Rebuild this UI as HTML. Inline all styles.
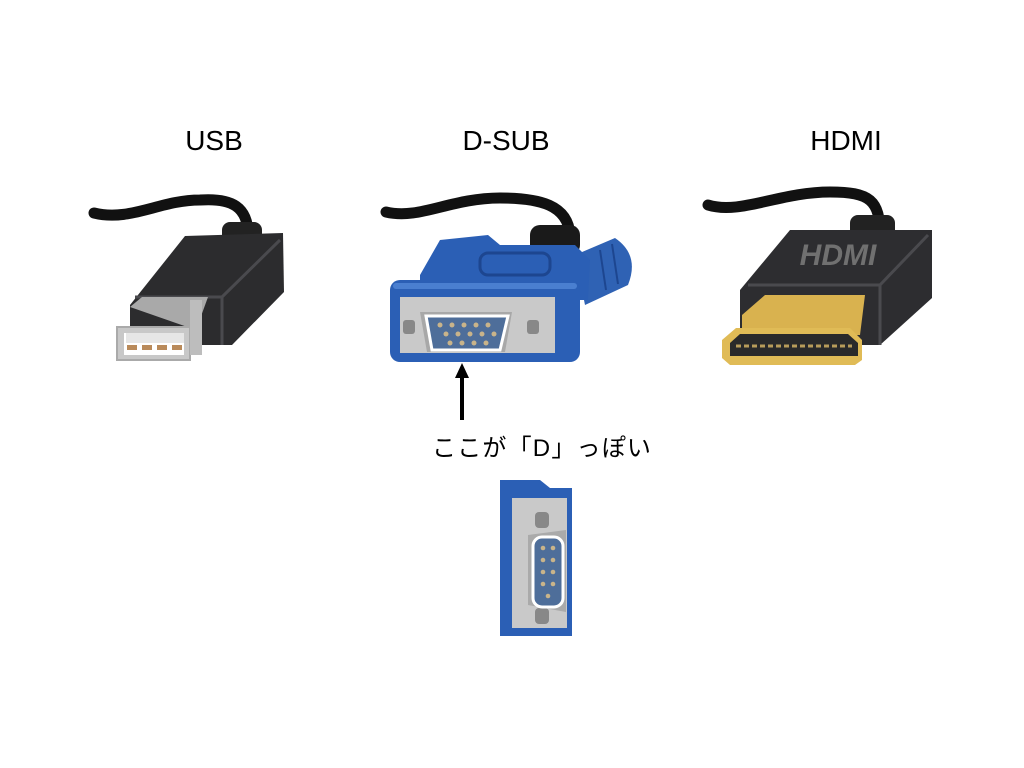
<!DOCTYPE html>
<html><head><meta charset="utf-8"><style>
html,body{margin:0;padding:0;background:#fff;}
svg{display:block}
text{font-family:"Liberation Sans","Noto Sans CJK JP",sans-serif;fill:#000}
</style></head><body>
<svg width="1024" height="768" viewBox="0 0 1024 768" xmlns="http://www.w3.org/2000/svg">
<text x="214" y="150" font-size="28" text-anchor="middle">USB</text>
<text x="506" y="150" font-size="28" text-anchor="middle">D-SUB</text>
<text x="846" y="150" font-size="28" text-anchor="middle">HDMI</text>

<!-- USB -->
<path d="M94,213 C130,222 160,200 200,200 C230,198 250,205 248,240" stroke="#111" stroke-width="11" fill="none" stroke-linecap="round"/>
<rect x="222" y="222" width="40" height="22" rx="8" fill="#222"/>
<path d="M130,305 L185,236 L283,233 L284,292 L232,345 L130,345 Z" fill="#2c2c2e"/>
<path d="M135,297 L222,297 L222,345 M222,297 L280,240" stroke="#4a4a4e" stroke-width="3" fill="none"/>
<path d="M130,307 L142,297 L208,297 L196,330 Z" fill="#a9a9a9"/>
<rect x="117" y="327" width="73" height="33" fill="#c8c8c8" stroke="#aaa" stroke-width="2"/>
<rect x="124" y="333" width="60" height="22" fill="#fff"/>
<rect x="126" y="333" width="58" height="10" fill="#e6e6e6"/>
<g fill="#b98a5a"><rect x="127" y="345" width="10" height="5"/><rect x="142" y="345" width="10" height="5"/><rect x="157" y="345" width="10" height="5"/><rect x="172" y="345" width="10" height="5"/></g>
<rect x="190" y="300" width="12" height="55" fill="#bdbdbd"/>

<!-- D-SUB -->
<path d="M386,212 C420,220 450,198 500,198 C540,198 568,205 570,235" stroke="#111" stroke-width="11" fill="none" stroke-linecap="round"/>
<rect x="530" y="225" width="50" height="30" rx="10" fill="#1a1a1a"/>
<path d="M575,255 L615,238 Q640,255 628,285 L585,305 Z" fill="#2f62b4"/>
<g stroke="#1d4690" stroke-width="2"><line x1="600" y1="250" x2="606" y2="290"/><line x1="612" y1="244" x2="618" y2="284"/></g>
<path d="M420,275 L440,240 L488,235 L500,245 L575,245 L590,260 L588,300 L420,300 Z" fill="#2b5fb5"/>
<rect x="480" y="253" width="70" height="22" rx="8" fill="none" stroke="#1d4690" stroke-width="3"/>
<rect x="390" y="280" width="190" height="82" rx="10" fill="#2b5fb5"/>
<rect x="393" y="283" width="184" height="6" rx="3" fill="#4a7fd0"/>
<rect x="400" y="297" width="155" height="56" fill="#c9c9c9"/>
<path d="M420,312 L512,312 L505,352 L427,352 Z" fill="#a8a8a8"/>
<path d="M426,316 L508,316 L500,350 L432,350 Z" fill="#4e6e9a" stroke="#fff" stroke-width="3"/>
<g fill="#c9b48a"><circle cx="440" cy="325" r="2.5"/><circle cx="452" cy="325" r="2.5"/><circle cx="464" cy="325" r="2.5"/><circle cx="476" cy="325" r="2.5"/><circle cx="488" cy="325" r="2.5"/><circle cx="446" cy="334" r="2.5"/><circle cx="458" cy="334" r="2.5"/><circle cx="470" cy="334" r="2.5"/><circle cx="482" cy="334" r="2.5"/><circle cx="494" cy="334" r="2.5"/><circle cx="450" cy="343" r="2.5"/><circle cx="462" cy="343" r="2.5"/><circle cx="474" cy="343" r="2.5"/><circle cx="486" cy="343" r="2.5"/></g>
<rect x="403" y="320" width="12" height="14" rx="3" fill="#888"/>
<rect x="527" y="320" width="12" height="14" rx="3" fill="#888"/>

<!-- arrow -->
<line x1="462" y1="378" x2="462" y2="420" stroke="#000" stroke-width="4"/>
<path d="M455,378 L469,378 L462,363 Z" fill="#000"/>
<text x="432" y="456" font-size="24" letter-spacing="1.2">ここが「D」っぽい</text>

<!-- HDMI -->
<path d="M708,205 C740,215 780,192 830,192 C870,192 880,200 880,235" stroke="#111" stroke-width="11" fill="none" stroke-linecap="round"/>
<rect x="850" y="215" width="45" height="25" rx="8" fill="#222"/>
<path d="M740,290 L790,230 L932,230 L932,298 L880,345 L740,345 Z" fill="#2d2d30"/>
<path d="M748,285 L880,285 L880,345 M880,285 L928,235" stroke="#4a4a4e" stroke-width="3" fill="none"/>
<text x="838" y="265" font-size="30" font-weight="bold" font-style="italic" text-anchor="middle" style="fill:#707070">HDMI</text>
<path d="M742,315 L765,295 L865,295 L860,335 L742,335 Z" fill="#d9b24f"/>
<path d="M722,340 L736,328 L850,328 L862,340 L862,360 L855,365 L730,365 L722,358 Z" fill="#e0bb56"/>
<path d="M730,343 L740,334 L848,334 L858,343 L858,356 L730,356 Z" fill="#2a2a2a"/>
<line x1="736" y1="346" x2="852" y2="346" stroke="#b89c5a" stroke-width="3" stroke-dasharray="5 3"/>

<!-- small D-SUB -->
<path d="M500,480 L540,480 L550,488 L572,488 L572,636 L500,636 Z" fill="#2b5fb5"/>
<rect x="512" y="498" width="55" height="130" fill="#c9c9c9"/>
<rect x="535" y="512" width="14" height="16" rx="4" fill="#888"/>
<rect x="535" y="608" width="14" height="16" rx="4" fill="#888"/>
<path d="M528,535 L566,530 L566,612 L528,605 Z" fill="#aaa"/>
<rect x="533" y="537" width="30" height="70" rx="9" fill="#4e6e9a" stroke="#fff" stroke-width="3"/>
<g fill="#c9b48a"><circle cx="543" cy="548" r="2.3"/><circle cx="553" cy="548" r="2.3"/><circle cx="543" cy="560" r="2.3"/><circle cx="553" cy="560" r="2.3"/><circle cx="543" cy="572" r="2.3"/><circle cx="553" cy="572" r="2.3"/><circle cx="543" cy="584" r="2.3"/><circle cx="553" cy="584" r="2.3"/><circle cx="548" cy="596" r="2.3"/></g>
</svg>
</body></html>
